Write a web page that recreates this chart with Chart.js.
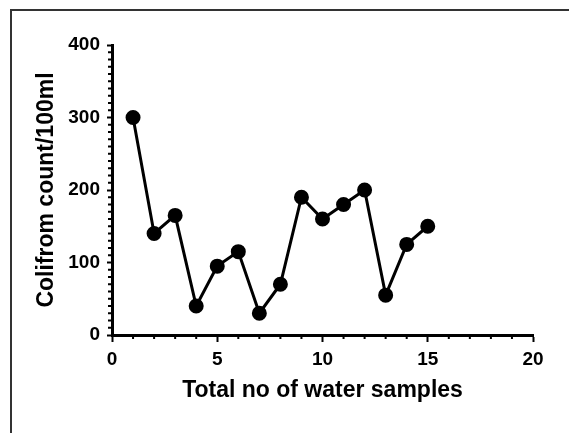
<!DOCTYPE html>
<html>
<head>
<meta charset="utf-8">
<script src="https://cdn.jsdelivr.net/npm/chart.js@4"></script>
<style>
  html, body { margin: 0; padding: 0; background: #fff; }
  #wrap { position: relative; width: 569px; height: 433px; }
  #frame {
    position: absolute; left: 10px; top: 9px; right: 0; bottom: 0;
    border-top: 2px solid #333; border-left: 2px solid #333;
    pointer-events: none;
  }
</style>
</head>
<body>
<div id="wrap">
  <canvas id="coliChart" width="569" height="433"></canvas>
  <div id="frame"></div>
</div>
<script>
'use strict';
// sample numbers and coliform counts
var sampleNo = [1, 2, 3, 4, 5, 6, 7, 8, 9, 10, 11, 12, 13, 14, 15];
var coliform = [300, 140, 165, 40, 95, 115, 30, 70, 190, 160, 180, 200, 55, 125, 150];
var xRange = [0, 20];
var yRange = [0, 400];
var xTitle = 'Total no of water samples';
var yTitle = 'Colifrom count/100ml';

var points = [];
for (var i = 0; i < sampleNo.length; i++) {
  points.push({ x: sampleNo[i], y: coliform[i] });
}

var fontFam = '"Liberation Sans", Arial, sans-serif';

// short minor ticks, like the prism style axes
var minorTicks = {
  id: 'minorTicks',
  afterDraw: function (chart) {
    var c = chart.ctx;
    var xs = chart.scales.x;
    var ys = chart.scales.y;
    var area = chart.chartArea;
    c.save();
    c.strokeStyle = '#000';
    c.lineWidth = 2;
    c.beginPath();
    for (var v = xRange[0]; v <= xRange[1]; v++) {
      if (v % 5 === 0) continue;
      var px = xs.getPixelForValue(v);
      c.moveTo(px, area.bottom);
      c.lineTo(px, area.bottom + 4);
    }
    for (var w = yRange[0]; w <= yRange[1]; w += 10) {
      if (w % 100 === 0) continue;
      var py = ys.getPixelForValue(w);
      c.moveTo(area.left, py);
      c.lineTo(area.left - 4, py);
    }
    c.stroke();
    c.restore();
  }
};

var ctx = document.getElementById('coliChart').getContext('2d');
var chart = new Chart(ctx, {
  type: 'line',
  data: {
    datasets: [{
      data: points,
      borderColor: '#000',
      backgroundColor: '#000',
      borderWidth: 3,
      pointRadius: 6,
      pointHoverRadius: 6,
      pointBackgroundColor: '#000',
      pointBorderColor: '#000',
      tension: 0
    }]
  },
  options: {
    responsive: false,
    animation: false,
    devicePixelRatio: 1,
    layout: { padding: { left: 0, top: 45, right: 36, bottom: 0 } },
    plugins: {
      legend: { display: false },
      tooltip: { enabled: false }
    },
    scales: {
      x: {
        type: 'linear',
        min: xRange[0],
        max: xRange[1],
        afterFit: function (scale) { scale.height = 98; },
        border: { display: true, color: '#000', width: 3 },
        grid: { drawOnChartArea: false, drawTicks: true, tickLength: 7, tickWidth: 2, color: '#000' },
        ticks: {
          stepSize: 5,
          color: '#000',
          padding: 6,
          maxRotation: 0,
          font: { family: fontFam, size: 19, weight: 'bold' }
        },
        title: {
          display: true,
          text: xTitle,
          color: '#000',
          padding: { top: 0, bottom: 29 },
          font: { family: fontFam, size: 23, weight: 'bold', lineHeight: 1.2 }
        }
      },
      y: {
        min: yRange[0],
        max: yRange[1],
        afterFit: function (scale) { scale.width = 112; },
        border: { display: true, color: '#000', width: 3 },
        grid: { drawOnChartArea: false, drawTicks: true, tickLength: 5, tickWidth: 2, color: '#000' },
        ticks: {
          stepSize: 100,
          color: '#000',
          padding: 7,
          font: { family: fontFam, size: 19, weight: 'bold' }
        },
        title: {
          display: true,
          text: yTitle,
          color: '#000',
          padding: { top: 33, bottom: 33 },
          font: { family: fontFam, size: 23, weight: 'bold', lineHeight: 1.2 }
        }
      }
    }
  },
  plugins: [minorTicks]
});
</script>
</body>
</html>
